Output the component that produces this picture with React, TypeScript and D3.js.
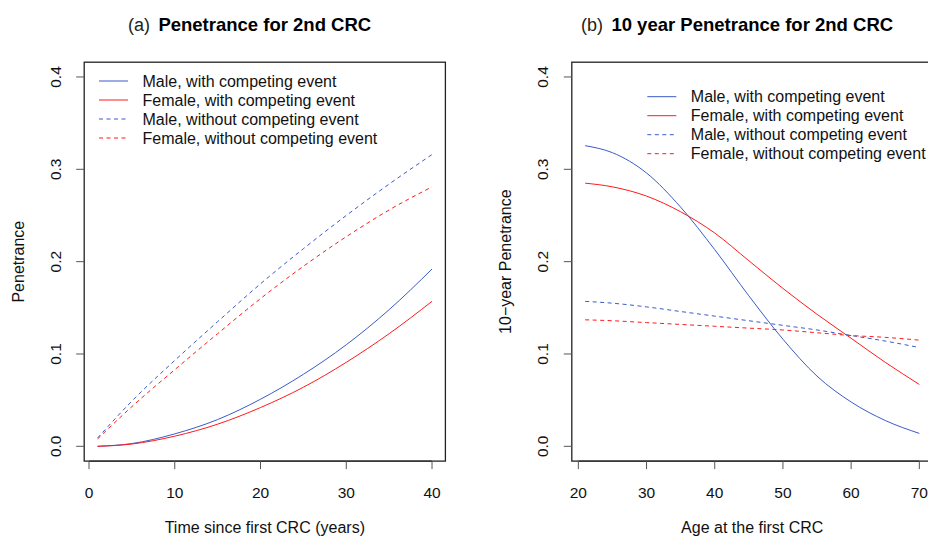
import React from "react";
import * as d3 from "d3";

const W = 928;
const H = 536;
const FONT = "'Liberation Sans', Arial, Helvetica, sans-serif";
const BLUE = "#3A5BC8";
const RED = "#FF1A1A";

// Panel (a): time since first CRC
const timeYears = [1, 5, 10, 15, 20, 25, 30, 35, 40];
const maleWith = [0.0, 0.003, 0.0135, 0.029, 0.051, 0.078, 0.11, 0.148, 0.192];
const femaleWith = [0.0, 0.0025, 0.011, 0.024, 0.042, 0.064, 0.091, 0.122, 0.157];
const maleWithout = [0.009, 0.049, 0.093, 0.135, 0.176, 0.214, 0.25, 0.284, 0.316];
const femaleWithout = [0.008, 0.043, 0.083, 0.122, 0.16, 0.195, 0.227, 0.256, 0.281];

// Panel (b): age at first CRC
const ageFirst = [21, 25, 30, 35, 40, 45, 50, 55, 60, 65, 70];
const maleWith10 = [0.3256, 0.318, 0.296, 0.259, 0.213, 0.163, 0.116, 0.076, 0.048, 0.028, 0.014];
const femaleWith10 = [0.285, 0.281, 0.271, 0.254, 0.231, 0.201, 0.171, 0.143, 0.117, 0.091, 0.067];
const maleWithout10 = [0.157, 0.155, 0.151, 0.146, 0.141, 0.136, 0.131, 0.126, 0.12, 0.114, 0.107];
const femaleWithout10 = [0.137, 0.136, 0.134, 0.132, 0.13, 0.128, 0.126, 0.123, 0.12, 0.118, 0.115];

const xTicksA = [0, 10, 20, 30, 40];
const xTicksB = [20, 30, 40, 50, 60, 70];
const yTicks = [0, 0.1, 0.2, 0.3, 0.4];

const legendLabels = [
  "Male, with competing event",
  "Female, with competing event",
  "Male, without competing event",
  "Female, without competing event",
];
const legendColors = [BLUE, RED, BLUE, RED];
const legendDash = [false, false, true, true];

type PanelProps = {
  left: number;
  right: number;
  domainX: [number, number];
  xs: number[];
  series: number[][];
  xTicks: number[];
  tag: string;
  title: string;
  xLabel: string;
  yLabel: string;
  yLabelX: number;
  tickLabelX: number;
  legendX: number;
  legendY: number;
};

const top = 62.2;
const bottom = 461.1;
const DASH = "4,3.5";
const TITLE_SIZE = 18.5;

function Panel(p: PanelProps) {
  const x = d3.scaleLinear().domain(p.domainX).range([p.left, p.right]);
  const y = d3.scaleLinear().domain([-0.016, 0.416]).range([bottom, top]);
  const line = d3
    .line<[number, number]>()
    .x((d) => x(d[0]))
    .y((d) => y(d[1]))
    .curve(d3.curveMonotoneX);
  const cx = (p.left + p.right) / 2;
  return (
    <g fontFamily={FONT}>
      {p.series.map((s, i) => (
        <path
          key={i}
          d={line(p.xs.map((v, j) => [v, s[j]] as [number, number])) || ""}
          fill="none"
          stroke={legendColors[i]}
          strokeWidth={1}
          strokeDasharray={legendDash[i] ? DASH : undefined}
        />
      ))}
      <rect x={p.left} y={top} width={p.right - p.left} height={bottom - top} fill="none" stroke="#222" strokeWidth={1.3} />
      {/* x axis */}
      <line x1={x(p.xTicks[0])} x2={x(p.xTicks[p.xTicks.length - 1])} y1={bottom} y2={bottom} stroke="#222" />
      {p.xTicks.map((t) => (
        <g key={t}>
          <line x1={x(t)} x2={x(t)} y1={bottom} y2={bottom + 8} stroke="#555" />
          <text x={x(t)} y={497.5} textAnchor="middle" fontSize={15.5} fill="#111">
            {t}
          </text>
        </g>
      ))}
      {/* y axis */}
      {yTicks.map((t) => (
        <g key={t}>
          <line x1={p.left - 8} x2={p.left} y1={y(t)} y2={y(t)} stroke="#555" />
          <text
            transform={`translate(${p.tickLabelX},${y(t)}) rotate(-90)`}
            textAnchor="middle"
            fontSize={15.5}
            fill="#111"
          >
            {t.toFixed(1)}
          </text>
        </g>
      ))}
      <text x={cx} y={533} textAnchor="middle" fontSize={16} fill="#111">
        {p.xLabel}
      </text>
      <text
        transform={`translate(${p.yLabelX},${(top + bottom) / 2}) rotate(-90)`}
        textAnchor="middle"
        fontSize={16}
        fill="#111"
      >
        {p.yLabel}
      </text>
      {/* title */}
      <text x={cx} y={30.5} textAnchor="middle" fontSize={TITLE_SIZE} fontWeight="bold" fill="#000">
        {p.title}
      </text>
      <TitleTag cx={cx} title={p.title} tag={p.tag} />
      {/* legend */}
      {legendLabels.map((lab, i) => (
        <g key={lab}>
          <line
            x1={p.legendX}
            x2={p.legendX + 29}
            y1={p.legendY + i * 19}
            y2={p.legendY + i * 19}
            stroke={legendColors[i]}
            strokeWidth={1}
            strokeDasharray={legendDash[i] ? DASH : undefined}
          />
          <text x={p.legendX + 43.5} y={p.legendY + i * 19} dy="0.36em" fontSize={16} fill="#111">
            {lab}
          </text>
        </g>
      ))}
    </g>
  );
}

function TitleTag({ cx, title, tag }: { cx: number; title: string; tag: string }) {
  const ref = React.useRef<SVGTextElement>(null);
  const [xPos, setXPos] = React.useState(cx - 115);
  React.useEffect(() => {
    const svg = ref.current?.ownerSVGElement;
    if (!svg) return;
    const t = document.createElementNS("http://www.w3.org/2000/svg", "text");
    t.setAttribute("font-family", FONT);
    t.setAttribute("font-size", String(TITLE_SIZE));
    t.setAttribute("font-weight", "bold");
    t.textContent = title;
    svg.appendChild(t);
    const w = t.getComputedTextLength();
    svg.removeChild(t);
    setXPos(cx - w / 2 - 8.5);
  }, [cx, title]);
  return (
    <text ref={ref} x={xPos} y={30.5} textAnchor="end" fontSize={18} fill="#222" fontFamily={FONT}>
      {tag}
    </text>
  );
}

export default function App() {
  return (
    <svg width={W} height={H} style={{ position: "absolute", left: 0, top: 0, background: "#fff" }}>
      <rect width={W} height={H} fill="#fff" />
      <Panel
        left={84.2}
        right={445.4}
        domainX={[-0.56, 41.56]}
        xs={timeYears}
        series={[maleWith, femaleWith, maleWithout, femaleWithout]}
        xTicks={xTicksA}
        tag="(a)"
        title="Penetrance for 2nd CRC"
        xLabel="Time since first CRC (years)"
        yLabel="Penetrance"
        yLabelX={24}
        tickLabelX={61}
        legendX={99}
        legendY={81}
      />
      <Panel
        left={571.8}
        right={932.7}
        domainX={[19.04, 71.96]}
        xs={ageFirst}
        series={[maleWith10, femaleWith10, maleWithout10, femaleWithout10]}
        xTicks={xTicksB}
        tag="(b)"
        title="10 year Penetrance for 2nd CRC"
        xLabel="Age at the first CRC"
        yLabel="10−year Penetrance"
        yLabelX={511}
        tickLabelX={548.3}
        legendX={647.3}
        legendY={96.7}
      />
    </svg>
  );
}
